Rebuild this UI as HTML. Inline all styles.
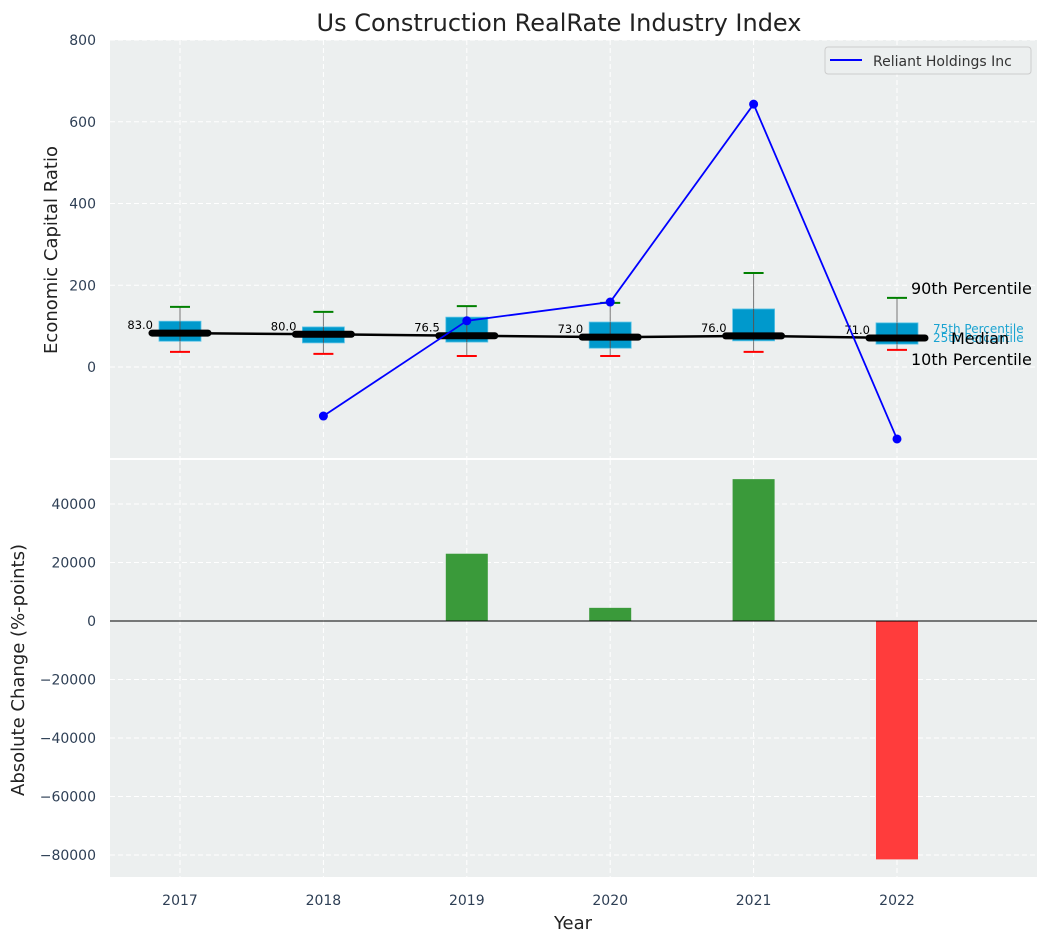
<!DOCTYPE html>
<html><head><meta charset="utf-8"><style>
body{margin:0;background:#fff;font-family:"DejaVu Sans","Liberation Sans",sans-serif}
svg text{font-family:"DejaVu Sans","Liberation Sans",sans-serif}
</style></head><body>
<svg id="c" width="1048" height="942" xmlns="http://www.w3.org/2000/svg"></svg>
<script>
const years=[2017,2018,2019,2020,2021,2022];
const medians=[83.0,80.0,76.5,73.0,76.0,71.0];
const q1=[63,59,61,46,64,56];
const q3=[112,98,122,110,142,108];
const p10=[37,32,27,27,37,42];
const p90=[147,135,149,157,230,169];
const companyYears=[2018,2019,2020,2021,2022];
const companyValues=[-120,113,159,643,-176];
const changeYears=[2019,2020,2021,2022];
const changeValues=[23000,4500,48500,-81500];
const topTicks=[0,200,400,600,800];
const botTicks=[-80000,-60000,-40000,-20000,0,20000,40000];

const svg=document.getElementById('c');
const NS='http://www.w3.org/2000/svg';
function el(t,a,p){const e=document.createElementNS(NS,t);for(const k in a)e.setAttribute(k,a[k]);(p||svg).appendChild(e);return e;}
const L=110,R=1037;
const x=v=>180+(v-2017)*143.4;
const T0=40,T1=458,B0=460,B1=877;
const yT=v=>367-v*0.40875;
const yB=v=>621-v*58.5/20000;

let g=el('rect',{x:L,y:T0,width:R-L,height:T1-T0,fill:'#ecefef'});

g=el('rect',{x:L,y:B0,width:R-L,height:B1-B0,fill:'#ecefef'});


years.forEach(yr=>{
  el('line',{x1:x(yr),x2:x(yr),y1:T0,y2:T1,stroke:'#fff','stroke-dasharray':'5,3','stroke-width':1});
  el('line',{x1:x(yr),x2:x(yr),y1:B0,y2:B1,stroke:'#fff','stroke-dasharray':'5,3','stroke-width':1});
  const t=el('text',{x:x(yr),y:905,'text-anchor':'middle','font-size':14,fill:'#2e3f55'});t.textContent=yr;
  
});
topTicks.forEach(v=>{
  el('line',{x1:L,x2:R,y1:yT(v),y2:yT(v),stroke:'#fff','stroke-dasharray':'5,3'});
  const t=el('text',{x:96,y:yT(v)+5,'text-anchor':'end','font-size':14,fill:'#2e3f55'});t.textContent=v;
  
});
botTicks.forEach(v=>{
  el('line',{x1:L,x2:R,y1:yB(v),y2:yB(v),stroke:'#fff','stroke-dasharray':'5,3'});
  const t=el('text',{x:96,y:yB(v)+5,'text-anchor':'end','font-size':14,fill:'#2e3f55'});t.textContent=v<0?'\u2212'+(-v):v;
  
});

const bw=21;
years.forEach((yr,i)=>{
  const cx=x(yr);
  el('line',{x1:cx,x2:cx,y1:yT(p90[i]),y2:yT(p10[i]),stroke:'#777','stroke-width':1});
  const b=el('rect',{x:cx-bw,y:yT(q3[i]),width:2*bw,height:yT(q1[i])-yT(q3[i]),fill:'#0099cc',stroke:'#5cc4e6','stroke-width':0.8});
  
  el('line',{x1:cx,x2:cx,y1:yT(q3[i]),y2:yT(q1[i]),stroke:'#555','stroke-width':1});
  el('line',{x1:cx-10,x2:cx+10,y1:yT(p90[i]),y2:yT(p90[i]),stroke:'green','stroke-width':2});
  el('line',{x1:cx-10,x2:cx+10,y1:yT(p10[i]),y2:yT(p10[i]),stroke:'red','stroke-width':2});
});
g=el('polyline',{points:years.map((yr,i)=>x(yr)+','+yT(medians[i])).join(' '),fill:'none',stroke:'#000','stroke-width':2.5});

const mw=28;
years.forEach((yr,i)=>{
  const cx=x(yr);
  const m=el('line',{x1:cx-mw,x2:cx+mw,y1:yT(medians[i]),y2:yT(medians[i]),stroke:'#000','stroke-width':7,'stroke-linecap':'round'});
  
  const t=el('text',{x:cx-27,y:yT(medians[i])-4,'text-anchor':'end','font-size':11.5,fill:'#000'});t.textContent=medians[i].toFixed(1);
  
});
g=el('polyline',{points:companyYears.map((yr,i)=>x(yr)+','+yT(companyValues[i])).join(' '),fill:'none',stroke:'#0000ff','stroke-width':1.8});

companyYears.forEach((yr,i)=>{
  const c=el('circle',{cx:x(yr),cy:yT(companyValues[i]),r:4.5,fill:'#0000ff'});
  
});
const lx=x(2022), li=5;
[['90th Percentile',lx+14,yT(p90[li])-4,16,'#000'],['10th Percentile',lx+14,yT(p10[li])+15,16,'#000'],
 ['75th Percentile',lx+36,yT(q3[li])+10,12,'#1aa3d1'],['25th Percentile',lx+36,yT(q1[li])-2,12,'#1aa3d1'],['Median',lx+54,yT(medians[li])+6,16,'#000']].forEach(a=>{
  const t=el('text',{x:a[1],y:a[2],'font-size':a[3],fill:a[4]});t.textContent=a[0];
  
});
g=el('g',{});
el('rect',{x:825,y:47,width:206,height:27,rx:3,fill:'#ecefef',stroke:'#ccc'},g);
el('line',{x1:830,x2:862,y1:60,y2:60,stroke:'#0000ff','stroke-width':2},g);
let lt=el('text',{x:873,y:66,'font-size':14,fill:'#333'},g);lt.textContent='Reliant Holdings Inc';

const hw=21;
changeYears.forEach((yr,i)=>{
  const v=changeValues[i];
  const r=el('rect',{x:x(yr)-hw,y:Math.min(yB(v),yB(0)),width:2*hw,height:Math.abs(yB(v)-yB(0)),fill:v>=0?'#3a9a3a':'#ff3c3c'});
  
});
el('line',{x1:L,x2:R,y1:yB(0),y2:yB(0),stroke:'#000','stroke-width':1});

let t=el('text',{x:559,y:31,'text-anchor':'middle','font-size':24,fill:'#222'});t.textContent='Us Construction RealRate Industry Index';

t=el('text',{x:573,y:929,'text-anchor':'middle','font-size':18,fill:'#222'});t.textContent='Year';

t=el('text',{x:57,y:250,'text-anchor':'middle','font-size':18,fill:'#222',transform:'rotate(-90 57 250)'});t.textContent='Economic Capital Ratio';

t=el('text',{x:24,y:670,'text-anchor':'middle','font-size':18,fill:'#222',transform:'rotate(-90 24 670)'});t.textContent='Absolute Change (%-points)';

</script>
</body></html>
